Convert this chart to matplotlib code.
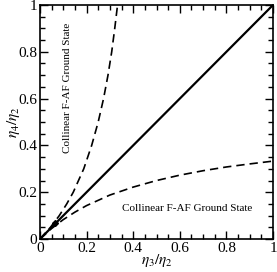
import matplotlib
matplotlib.use("Agg")
import matplotlib.pyplot as plt
from matplotlib.ticker import MultipleLocator

plt.rcParams['font.family'] = 'Liberation Serif'
plt.rcParams['mathtext.fontset'] = 'stix'

# diagonal boundary
diag_x = [0.0, 1.0]
diag_y = [0.0, 1.0]

# lower dashed boundary
low_x = [0.0, 0.05, 0.1, 0.15, 0.2, 0.3, 0.4, 0.5, 0.6, 0.7, 0.8, 0.9, 1.0]
low_y = [0.0, 0.045, 0.083, 0.115, 0.143, 0.188, 0.222, 0.25, 0.273, 0.292, 0.308, 0.321, 0.333]

# upper dashed boundary (mirror of the lower one)
up_x = [0.0, 0.045, 0.083, 0.115, 0.143, 0.188, 0.222, 0.25, 0.273, 0.292, 0.308, 0.321, 0.333, 0.34]
up_y = [0.0, 0.05, 0.1, 0.15, 0.2, 0.3, 0.4, 0.5, 0.6, 0.7, 0.8, 0.9, 1.0, 1.05]

ticks = [0, 0.2, 0.4, 0.6, 0.8, 1.0]
tick_labels = ['0', '0.2', '0.4', '0.6', '0.8', '1']
label = "Collinear F-AF Ground State"

fig = plt.figure(figsize=(2.77, 2.72), dpi=100)
ax = fig.add_axes([0.144, 0.121, 0.842, 0.861])

ax.plot(diag_x, diag_y, color='black', lw=1.6)
ax.plot(low_x, low_y, color='black', lw=1.2, ls=(0, (5, 3)))
ax.plot(up_x, up_y, color='black', lw=1.2, ls=(0, (5, 3)))
ax.plot([0.065], [0.07], marker='D', color='black', ms=3)

ax.text(0.12, 0.645, label, rotation=90, fontsize=8, ha='center', va='center')
ax.text(0.63, 0.13, label, fontsize=8, ha='center', va='center')

ax.set_xlim(0, 1)
ax.set_ylim(0, 1)
ax.xaxis.set_ticks(ticks, tick_labels)
ax.yaxis.set_ticks(ticks, tick_labels)
ax.xaxis.set_minor_locator(MultipleLocator(0.05))
ax.yaxis.set_minor_locator(MultipleLocator(0.05))
ax.tick_params(which='both', direction='in', top=True, right=True, labelsize=11, width=1, pad=2)
ax.tick_params(which='major', length=6)
ax.tick_params(which='minor', length=3.5)
for s in ax.spines.values():
    s.set_linewidth(1.2)

ax.set_xlabel(r'$\eta_3/\eta_2$', fontsize=11, labelpad=-2)
ax.set_ylabel(r'$\eta_4/\eta_2$', fontsize=11, labelpad=-3)

fig.savefig('out.png', dpi=100)
